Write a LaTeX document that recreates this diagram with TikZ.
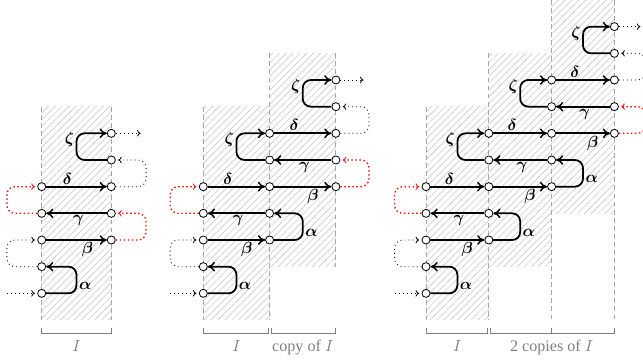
\documentclass[tikz,border=0pt]{standalone}
\usepackage{amsmath}
\usepackage{fontspec}
\setmainfont{Liberation Serif}
\usetikzlibrary{arrows.meta}
\usetikzlibrary{patterns.meta}

\tikzset{
  pt/.style={circle,draw,fill=white,inner sep=0pt,minimum size=5pt,line width=0.5pt},
  walk/.style={line width=1.1pt,-{Computer Modern Rightarrow[length=4.5pt,width=6pt,line width=0.9pt]},rounded corners=5pt},
  hop/.style={line width=0.5pt,dash pattern=on 0.6pt off 1.9pt,-{Computer Modern Rightarrow[length=2.2pt,width=4pt,line width=0.5pt]},shorten >=1.5pt,rounded corners=5pt},
  redhop/.style={hop,red,line width=0.8pt,dash pattern=on 0.9pt off 1.6pt},
  lab/.style={inner sep=1pt},
  band/.style={pattern={Lines[angle=45,distance=3pt,line width=0.3pt]},pattern color=gray!50},
  border/.style={gray!70,line width=0.5pt,dash pattern=on 3pt off 2pt},
  brace/.style={gray,line width=0.6pt},
  under/.style={text=gray,inner sep=0pt,anchor=base}
}

% height of one row
\def\rh{26.667}

% hatched band of one copy of I: #1 left x, #2 width, #3 bottom row
\newcommand\bandI[3]{%
  \fill[band] (#1,{\rh*(#3-6)}) rectangle ({#1+#2},{\rh*(#3+2)});
}

% nodes of a panel: #1 name, #2 left x, #3 width, #4 last column
\newcommand\ptsI[4]{%
  \foreach \col in {0,...,#4}{
    \foreach \kk in {0,...,4}{
      \pgfmathtruncatemacro\rw{6-2*\col+\kk}
      \node[pt] (#1-\col-\rw) at ({#2+\col*#3},{\rh*(\rw+1)}) {};
    }
  }
}

% the five steps of one copy of I: #1 name, #2 column, #3 bottom row, #4 half width
\newcommand\walkI[4]{%
  \pgfmathtruncatemacro\jj{#2+1}
  \pgfmathtruncatemacro\rA{#3-1}
  \pgfmathtruncatemacro\rB{#3-2}
  \pgfmathtruncatemacro\rC{#3-3}
  \pgfmathtruncatemacro\rD{#3-4}
  \pgfmathtruncatemacro\rE{#3-5}
  \pgfmathtruncatemacro\rF{#3-6}
  \draw[walk] (#1-#2-#3) -- ++(#4,0) |- node[lab,right,pos=.14] {$\boldsymbol{\alpha}$} (#1-#2-\rA);
  \draw[walk] (#1-#2-\rB) -- node[lab,below,pos=.68] {$\boldsymbol{\beta}$} (#1-\jj-\rB);
  \draw[walk] (#1-\jj-\rC) -- node[lab,below,pos=.47] {$\boldsymbol{\gamma}$} (#1-#2-\rC);
  \draw[walk] (#1-#2-\rD) -- node[lab,above,pos=.35] {$\boldsymbol{\delta}$} (#1-\jj-\rD);
  \draw[walk] (#1-\jj-\rE) -- ++(-#4,0) |- node[lab,left,pos=.38] {$\boldsymbol{\zeta}$} (#1-\jj-\rF);
}

% dotted steps outside: #1 name, #2 last column, #3 half width
\newcommand\hopsI[3]{%
  \pgfmathtruncatemacro\rA{10-2*#2}
  \pgfmathtruncatemacro\rB{9-2*#2}
  \pgfmathtruncatemacro\rC{8-2*#2}
  \pgfmathtruncatemacro\rD{7-2*#2}
  \pgfmathtruncatemacro\rE{6-2*#2}
  \path (#1-0-10) ++(-#3,0) coordinate (#1-in);
  \path (#1-#2-\rE) ++(#3-3,0) coordinate (#1-out);
  \draw[hop] (#1-in) -- (#1-0-10);
  \draw[hop] (#1-0-9) -- ++(-#3,0) |- (#1-0-8);
  \draw[redhop] (#1-0-7) -- ++(-#3,0) |- (#1-0-6);
  \draw[redhop] (#1-#2-\rA) -- ++(#3,0) |- (#1-#2-\rB);
  \draw[hop] (#1-#2-\rC) -- ++(#3,0) |- (#1-#2-\rD);
  \draw[hop] (#1-#2-\rE) -- (#1-out);
}

\begin{document}
\begin{tikzpicture}[x=0.62pt,y=-0.62pt]
  \useasboundingbox (0,0) rectangle (643,360);
  % left x and column width of the three panels
  \def\xa{41.7} \def\wa{69.6}
  \def\xb{203.3} \def\wb{66.3}
  \def\xc{426} \def\wc{62.8}

  % hatched copies of I
  \bandI{\xa}{\wa}{10}
  \bandI{\xb}{\wb}{10}
  \bandI{\xb+\wb}{\wb}{8}
  \bandI{\xc}{\wc}{10}
  \bandI{\xc+\wc}{\wc}{8}
  \bandI{\xc+2*\wc}{\wc}{6}

  % column borders
  \foreach \x/\t/\b in {\xa/4/12, \xa+\wa/4/12, \xb/4/12, \xb+\wb/2/12, \xb+2*\wb/2/10,
      \xc/4/12, \xc+\wc/2/12, \xc+2*\wc/0/12, \xc+3*\wc/0/12}
    \draw[border] (\x,\rh*\t) -- (\x,\rh*\b);

  % points
  \ptsI{p1}{\xa}{\wa}{1}
  \ptsI{p2}{\xb}{\wb}{2}
  \ptsI{p3}{\xc}{\wc}{3}

  % the walk through each copy
  \walkI{p1}{0}{10}{\wa/2}
  \walkI{p2}{0}{10}{\wb/2}
  \walkI{p2}{1}{8}{\wb/2}
  \walkI{p3}{0}{10}{\wc/2}
  \walkI{p3}{1}{8}{\wc/2}
  \walkI{p3}{2}{6}{\wc/2}

  % what lies outside
  \hopsI{p1}{1}{\wa/2}
  \hopsI{p2}{2}{\wb/2}
  \hopsI{p3}{3}{\wc/2}

  % brackets
  \draw[brace] (\xa,328) |- (\xa+\wa,333.3) -- (\xa+\wa,328);
  \draw[brace] (\xb,328) |- (\xb+\wb-1.5,333.3) -- (\xb+\wb-1.5,328);
  \draw[brace] (\xb+\wb+1.5,328) |- (\xb+2*\wb,333.3) -- (\xb+2*\wb,328);
  \draw[brace] (\xc,328) |- (\xc+\wc-1.5,333.3) -- (\xc+\wc-1.5,328);
  \draw[brace] (\xc+\wc+1.5,328) |- (\xc+3*\wc,333.3) -- (\xc+3*\wc,328);
  \draw[brace] (\xc+2*\wc,328) -- (\xc+2*\wc,333.3);

  \node[under] (p1-I) at (\xa+\wa/2,351.5) {$I$};
  \node[under] (p2-I) at (\xb+\wb/2,351.5) {$I$};
  \node[under] (p2-copy) at (\xb+1.5*\wb,351.5) {copy of $I$};
  \node[under] (p3-I) at (\xc+\wc/2,351.5) {$I$};
  \node[under] (p3-copies) at (\xc+2*\wc,351.5) {2 copies of $I$};
\end{tikzpicture}
\end{document}
